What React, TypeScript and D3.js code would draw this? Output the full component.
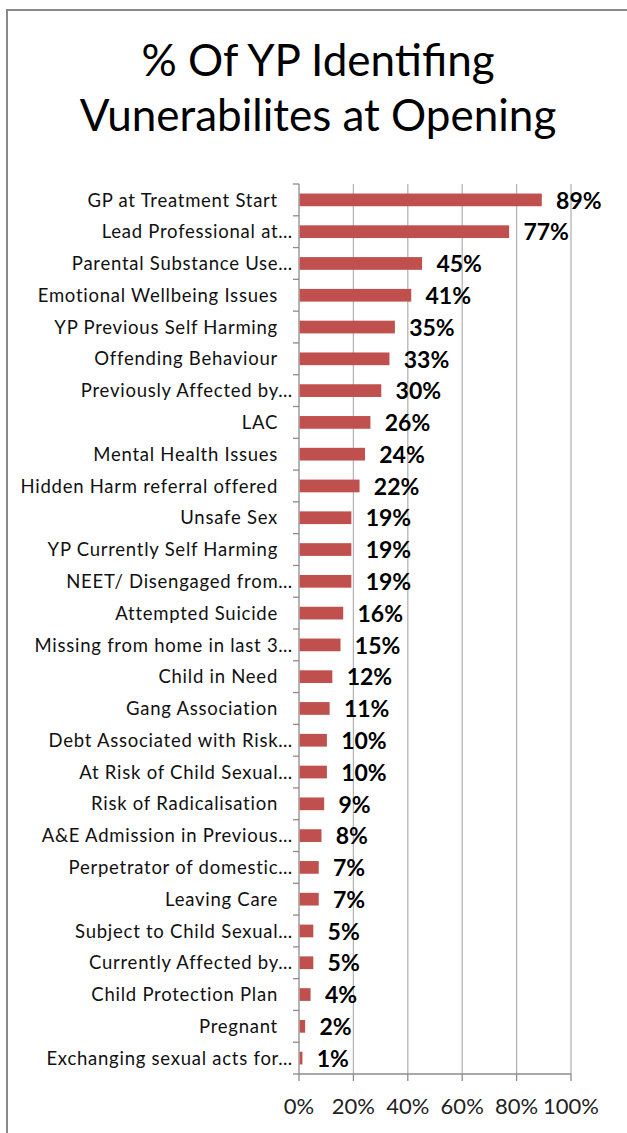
import React from "react";
import * as d3 from "d3";

const categories: string[] = [
  "GP at Treatment Start",
  "Lead Professional at…",
  "Parental Substance Use…",
  "Emotional Wellbeing Issues",
  "YP Previous Self Harming",
  "Offending Behaviour",
  "Previously Affected by…",
  "LAC",
  "Mental Health Issues",
  "Hidden Harm referral offered",
  "Unsafe Sex",
  "YP Currently Self Harming",
  "NEET/ Disengaged from…",
  "Attempted Suicide",
  "Missing from home in last 3…",
  "Child in Need",
  "Gang Association",
  "Debt Associated with Risk…",
  "At Risk of Child Sexual…",
  "Risk of Radicalisation",
  "A&E Admission in Previous…",
  "Perpetrator of domestic…",
  "Leaving Care",
  "Subject to Child Sexual…",
  "Currently Affected by…",
  "Child Protection Plan",
  "Pregnant",
  "Exchanging sexual acts for…",
];

const values: number[] = [
  0.89, 0.77, 0.45, 0.41, 0.35, 0.33, 0.3, 0.26, 0.24, 0.22, 0.19, 0.19, 0.19,
  0.16, 0.15, 0.12, 0.11, 0.1, 0.1, 0.09, 0.08, 0.07, 0.07, 0.05, 0.05, 0.04,
  0.02, 0.01,
];

const xTicks: number[] = [0, 0.2, 0.4, 0.6, 0.8, 1.0];

const titleLines: string[] = ["% Of YP Identifing", "Vunerabilites at Opening"];

export default function App() {
  const W = 627;
  const H = 1133;
  const left = 299;
  const right = 571;
  const top = 184;
  const bottom = 1074;

  const x = d3.scaleLinear().domain([0, 1]).range([left, right]);
  const y = d3
    .scaleBand<string>()
    .domain(categories)
    .range([top, bottom])
    .paddingInner(0.6)
    .paddingOuter(0.3);
  const step = y.step();
  const fmt = d3.format(".0%");
  const font = "Lato, 'Open Sans', sans-serif";
  const gridColor = "#b4b4b4";
  const axisColor = "#8c8c8c";

  const boundaries = d3.range(categories.length + 1).map((i) => top + i * step);

  return (
    <svg
      width={W}
      height={H}
      style={{ position: "absolute", left: 0, top: 0, background: "#fff" }}
    >
      <rect x={0} y={0} width={W} height={H} fill="#fff" />
      <rect
        x={7}
        y={10}
        width={W + 20}
        height={H + 20}
        fill="#fff"
        stroke="#8a8a8a"
        strokeWidth={2}
      />
      {titleLines.map((t, i) => (
        <text
          key={t}
          x={318}
          y={76 + i * 55}
          textAnchor="middle"
          fontFamily={font}
          fontSize={44}
          fill="#000"
        >
          {t}
        </text>
      ))}

      {/* gridlines */}
      {xTicks.map((t) => (
        <line
          key={"g" + t}
          x1={x(t)}
          x2={x(t)}
          y1={top}
          y2={bottom}
          stroke={t === 0 ? axisColor : gridColor}
          strokeWidth={1.3}
        />
      ))}
      {/* x axis line and ticks */}
      <line x1={left} x2={right} y1={bottom} y2={bottom} stroke={axisColor} strokeWidth={1.3} />
      {xTicks.map((t) => (
        <line
          key={"xt" + t}
          x1={x(t)}
          x2={x(t)}
          y1={bottom}
          y2={bottom + 7}
          stroke={axisColor}
          strokeWidth={1.3}
        />
      ))}
      {xTicks.map((t) => (
        <text
          key={"xl" + t}
          x={x(t)}
          y={1114}
          textAnchor="middle"
          fontFamily={font}
          fontSize={22}
          fill="#222"
        >
          {fmt(t)}
        </text>
      ))}
      {/* y ticks */}
      {boundaries.map((b, i) => (
        <line
          key={"yt" + i}
          x1={left - 6}
          x2={left}
          y1={b}
          y2={b}
          stroke={axisColor}
          strokeWidth={1.3}
        />
      ))}

      {/* bars */}
      {categories.map((c, i) => (
        <rect
          key={"b" + c}
          x={x(0) + 0.7}
          y={y(c)}
          width={x(values[i]) - x(0)}
          height={y.bandwidth()}
          fill="#c0504d"
        />
      ))}

      {/* category labels */}
      {categories.map((c) => (
        <text
          key={"l" + c}
          x={c.endsWith("…") ? 293 : 278}
          y={(y(c) as number) + y.bandwidth() / 2}
          dy="0.36em"
          textAnchor="end"
          fontFamily={font}
          fontSize={18.5}
          letterSpacing={0.75}
          fill="#111"
        >
          {c}
        </text>
      ))}

      {/* data labels */}
      {categories.map((c, i) => (
        <text
          key={"d" + c}
          x={x(values[i]) + 15}
          y={(y(c) as number) + y.bandwidth() / 2}
          dy="0.38em"
          textAnchor="start"
          fontFamily={font}
          fontWeight="bold"
          fontSize={23}
          fill="#000"
        >
          {fmt(values[i])}
        </text>
      ))}
    </svg>
  );
}
